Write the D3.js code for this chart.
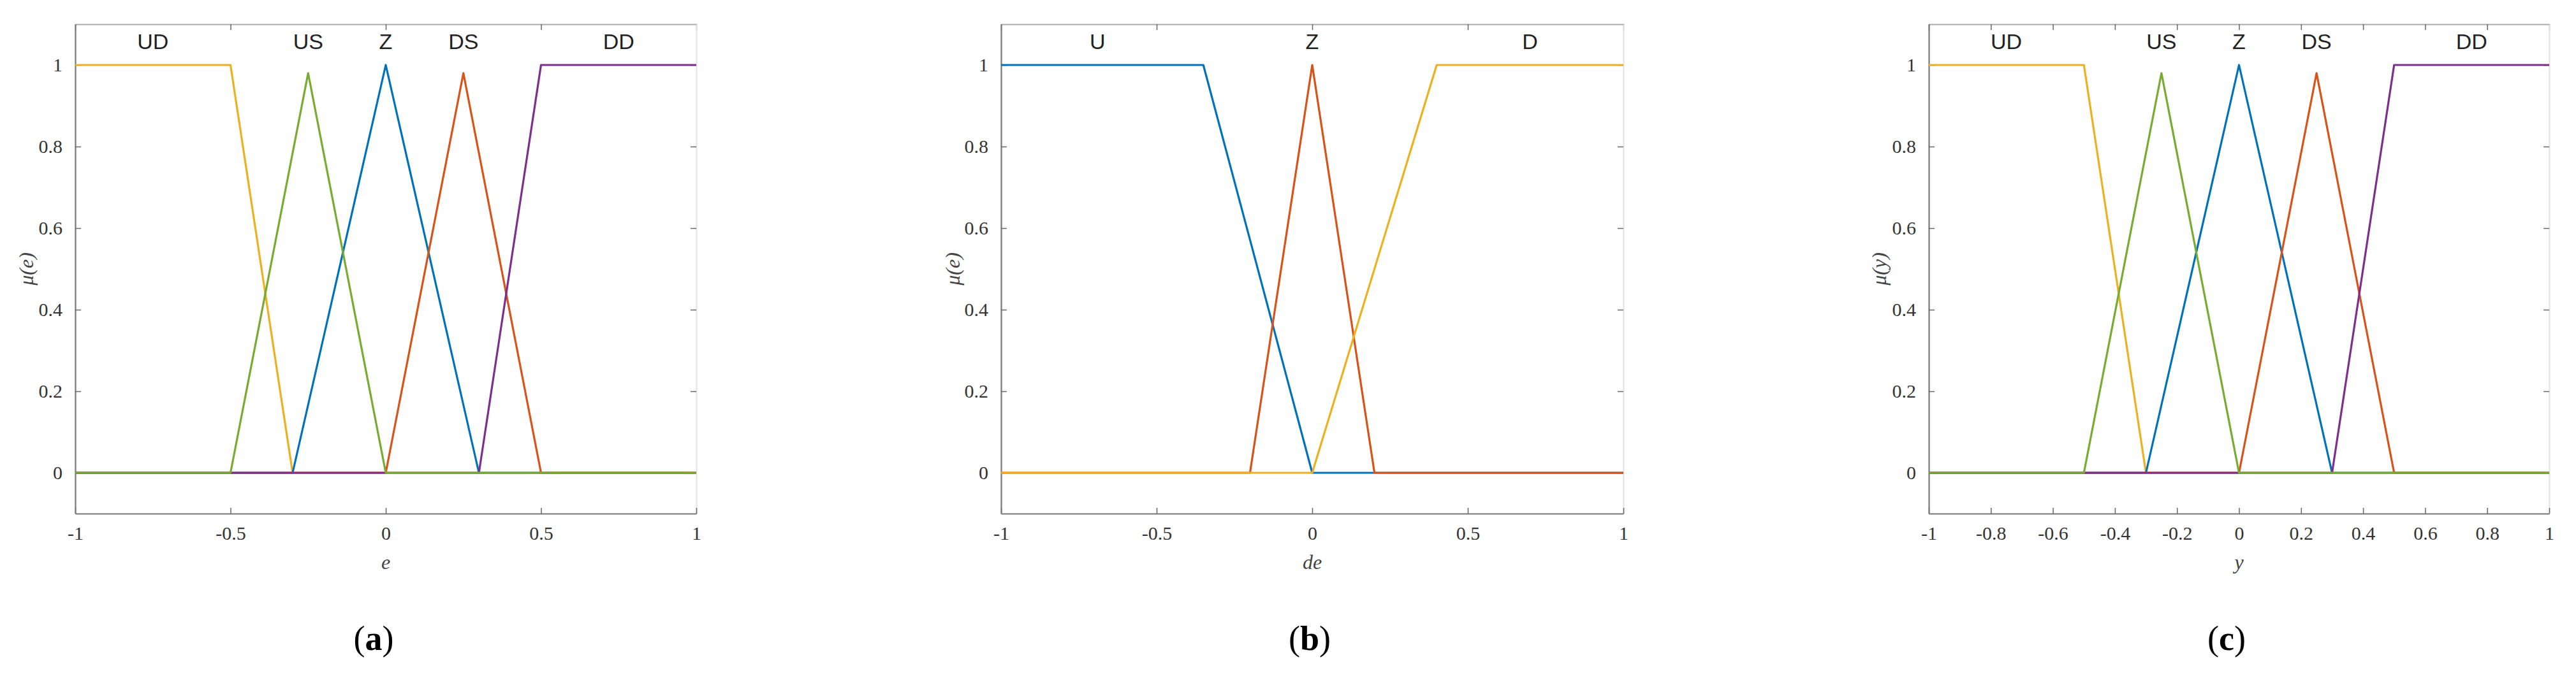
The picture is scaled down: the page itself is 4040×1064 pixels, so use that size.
<!DOCTYPE html>
<html><head><meta charset="utf-8">
<script src="https://cdn.jsdelivr.net/npm/d3@7"></script>
<style>body{margin:0;background:#fff}</style></head>
<body><svg id="c" width="4040" height="1064"></svg>
<script>
// Panel (a) e
const aUD=[[-1,1],[-0.5,1],[-0.3,0],[1,0]];
const aUS=[[-1,0],[-0.5,0],[-0.25,0.98],[0,0],[1,0]];
const aZ=[[-1,0],[-0.3,0],[0,1],[0.3,0],[1,0]];
const aDS=[[-1,0],[0,0],[0.25,0.98],[0.5,0],[1,0]];
const aDD=[[-1,0],[0.3,0],[0.5,1],[1,1]];
const aTicks=[-1,-0.5,0,0.5,1];
const aNames=["UD","US","Z","DS","DD"];
const aNameX=[-0.75,-0.25,0,0.25,0.75];
// Panel (b) de
const bU=[[-1,1],[-0.35,1],[0,0],[1,0]];
const bZ=[[-1,0],[-0.2,0],[0,1],[0.2,0],[1,0]];
const bD=[[-1,0],[0,0],[0.4,1],[1,1]];
const bTicks=[-1,-0.5,0,0.5,1];
const bNames=["U","Z","D"];
const bNameX=[-0.69,0,0.7];
// Panel (c) y
const cTicks=[-1,-0.8,-0.6,-0.4,-0.2,0,0.2,0.4,0.6,0.8,1];
const yTicks=[0,0.2,0.4,0.6,0.8,1];

const C={blue:"#0072BD",orange:"#D95319",yellow:"#EDB120",purple:"#7E2F8E",green:"#77AC30"};
const svg=d3.select("#c");
const y=d3.scaleLinear().domain([-0.1,1.1]).range([806,38]);
const fmt=d=>String(d);

function panel(x0,x1,series,ticks,names,nameX,xlab,ylab,ylabX,tag,tagX){
  const x=d3.scaleLinear().domain([-1,1]).range([x0,x1]);
  const g=svg.append("g");
  const line=d3.line().x(d=>x(d[0])).y(d=>y(d[1]));
  const st=(col)=>sel=>{sel.select(".domain").attr("stroke",col).attr("stroke-width",2.2);
    sel.selectAll(".tick line").attr("stroke","#666").attr("stroke-width",1.5);
    sel.selectAll("text").attr("font-family","'Liberation Serif', serif").attr("font-size",30).attr("fill","#333");};
  g.append("g").attr("transform",`translate(0,${y(1.1)})`)
    .call(d3.axisTop(x).tickValues(ticks).tickFormat("").tickSizeInner(-9).tickSizeOuter(0)).call(st("#aaa"));
  g.append("g").attr("transform",`translate(${x1},0)`)
    .call(d3.axisRight(y).tickValues(yTicks).tickFormat("").tickSizeInner(-9).tickSizeOuter(0)).call(st("#e4e4e4"));
  g.append("g").attr("transform",`translate(0,${y(-0.1)})`)
    .call(d3.axisBottom(x).tickValues(ticks).tickFormat(fmt).tickSizeInner(-9).tickSizeOuter(0).tickPadding(20)).call(st("#777"));
  g.append("g").attr("transform",`translate(${x0},0)`)
    .call(d3.axisLeft(y).tickValues(yTicks).tickFormat(fmt).tickSizeInner(-9).tickSizeOuter(0).tickPadding(20)).call(st("#777"));
  series.forEach(s=>g.append("path").attr("d",line(s.d)).attr("fill","none")
    .attr("stroke",s.c).attr("stroke-width",3.2).attr("stroke-linejoin","round"));
  g.append("g").selectAll("text").data(names).join("text")
    .attr("x",(d,i)=>x(nameX[i])).attr("y",y(1.053)).attr("text-anchor","middle")
    .attr("dominant-baseline","middle").attr("font-family","'Liberation Sans', sans-serif")
    .attr("font-size",34).attr("fill","#222").text(d=>d);
  g.append("text").attr("x",(x0+x1)/2).attr("y",893).attr("text-anchor","middle")
    .attr("font-family","'Liberation Serif', serif").attr("font-style","italic").attr("font-size",32)
    .attr("fill","#444").text(xlab);
  g.append("text").attr("transform",`translate(${ylabX},${y(0.5)}) rotate(-90)`)
    .attr("text-anchor","middle").attr("font-family","'Liberation Serif', serif").attr("font-style","italic")
    .attr("font-size",32).attr("fill","#444").text(ylab);
  const t=g.append("text").attr("x",tagX).attr("y",1020).attr("text-anchor","middle")
    .attr("font-family","'Liberation Serif', serif").attr("font-size",54).attr("fill","#000");
  t.append("tspan").text("(");t.append("tspan").attr("font-weight","bold").text(tag);t.append("tspan").text(")");
}
const five=[{d:aUD,c:C.yellow},{d:aZ,c:C.blue},{d:aDS,c:C.orange},{d:aDD,c:C.purple},{d:aUS,c:C.green}];
panel(118,1092,five,aTicks,aNames,aNameX,"e","μ(e)",52,"a",586);
panel(1570,2546,[{d:bU,c:C.blue},{d:bZ,c:C.orange},{d:bD,c:C.yellow}],bTicks,bNames,bNameX,"de","μ(e)",1505,"b",2054);
panel(3025,3998,five,cTicks,aNames,aNameX,"y","μ(y)",2958,"c",3492);
</script></body></html>
